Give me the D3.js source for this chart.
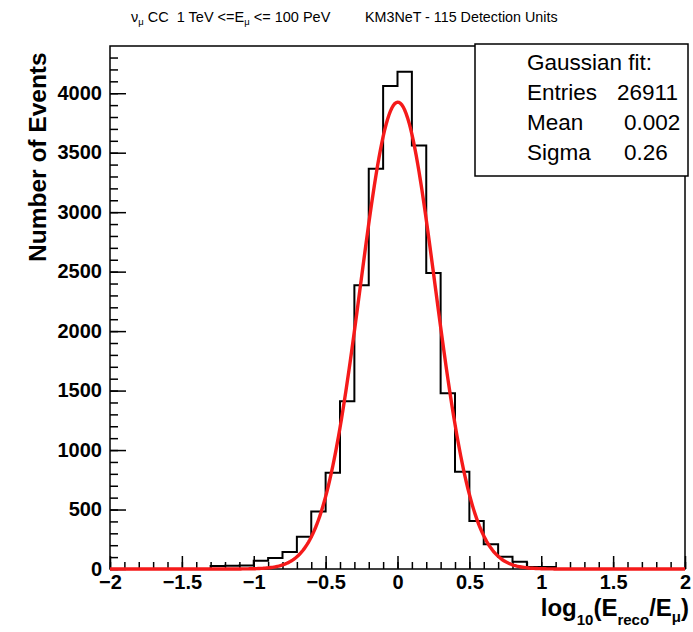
<!DOCTYPE html>
<html>
<head>
<meta charset="utf-8">
<script src="https://cdn.jsdelivr.net/npm/d3@7"></script>
<style>
  body { margin: 0; background: #fff; }
  svg text { font-family: "Liberation Sans", Arial, Helvetica, sans-serif; white-space: pre; }
</style>
</head>
<body>
<svg id="chart" width="693" height="632"></svg>
<script>
// histogram: 40 bins of width 0.1 from -2 to 2
var binStart = -2, binWidth = 0.1;
var counts = [
  0, 0, 0, 0, 0, 0, 0, 25, 28, 30,
  70, 92, 142, 271, 483, 810, 1410, 2385, 3365, 4060,
  4180, 3560, 2488, 1478, 818, 404, 208, 104, 60, 17,
  17, 0, 0, 0, 0, 0, 0, 0, 0, 0
];

// gaussian fit (stats box)
var fitConst = 3925, fitMean = 0.002, fitSigma = 0.26;
var statLabels = ["Entries", "Mean", "Sigma"];
var statValues = ["26911", "0.002", "0.26"];

var xMajor = [-2, -1.5, -1, -0.5, 0, 0.5, 1, 1.5, 2];
var yMajor = [0, 500, 1000, 1500, 2000, 2500, 3000, 3500, 4000];

var margin = {top: 46, left: 110, right: 8, bottom: 63},
    width = 693 - margin.left - margin.right,
    height = 632 - margin.top - margin.bottom;

var svg = d3.select("#chart");
var g = svg.append("g")
    .attr("transform", "translate(" + margin.left + "," + margin.top + ")");

var x = d3.scaleLinear().domain([-2, 2]).range([0, width]);
var y = d3.scaleLinear().domain([0, 4397]).range([height, 0]);

var fmt = function(d) { return d < 0 ? "\u2212" + Math.abs(d) : String(d); };

// minor ticks
var xMinor = d3.range(-20, 21).map(function(i) { return i / 10; });
var yMinor = d3.range(0, 44).map(function(i) { return i * 100; });

g.append("g")
    .attr("transform", "translate(0," + height + ")")
    .call(d3.axisBottom(x).tickValues(xMinor).tickSize(-7).tickFormat(""));
g.append("g")
    .call(d3.axisLeft(y).tickValues(yMinor).tickSize(-8).tickFormat(""));

// major ticks + labels
var xAxis = g.append("g")
    .attr("transform", "translate(0," + height + ")")
    .call(d3.axisBottom(x).tickValues(xMajor).tickSize(-13).tickPadding(6).tickFormat(fmt));
var yAxis = g.append("g")
    .call(d3.axisLeft(y).tickValues(yMajor).tickSize(-16).tickPadding(8).tickFormat(fmt));

g.selectAll(".domain").remove();
g.selectAll(".tick line").attr("stroke", "#000").attr("stroke-width", 1.5);
xAxis.selectAll("text").attr("font-size", 20).attr("font-weight", "bold")
    .attr("font-family", "Liberation Sans, Arial, sans-serif").attr("fill", "#000");
yAxis.selectAll("text").attr("font-size", 20).attr("font-weight", "bold")
    .attr("font-family", "Liberation Sans, Arial, sans-serif").attr("fill", "#000")
    .attr("dy", "0.3em");

// frame
g.append("rect")
    .attr("x", 0).attr("y", 0)
    .attr("width", width).attr("height", height)
    .attr("fill", "none").attr("stroke", "#000").attr("stroke-width", 1.5);

// histogram outline
var pts = counts.map(function(c, i) { return [binStart + i * binWidth, c]; });
pts.push([binStart + counts.length * binWidth, counts[counts.length - 1]]);
var histLine = d3.line()
    .x(function(d) { return x(d[0]); })
    .y(function(d) { return y(d[1]); })
    .curve(d3.curveStepAfter);
g.append("path")
    .datum(pts)
    .attr("d", histLine)
    .attr("fill", "none")
    .attr("stroke", "#000")
    .attr("stroke-width", 2);

// fit curve
var fitX = d3.range(0, 401).map(function(i) { return -2 + i * 0.01; });
var fitLine = d3.line()
    .x(function(d) { return x(d); })
    .y(function(d) { return y(fitConst * Math.exp(-0.5 * Math.pow((d - fitMean) / fitSigma, 2))); });
g.append("path")
    .datum(fitX)
    .attr("d", fitLine)
    .attr("fill", "none")
    .attr("stroke", "#f51a1a")
    .attr("stroke-width", 3.4);

// stats box
var box = svg.append("g").attr("transform", "translate(475,44)");
box.append("rect")
    .attr("width", 213).attr("height", 132)
    .attr("fill", "#fff").attr("stroke", "#000").attr("stroke-width", 1.5);
box.append("text").attr("x", 52).attr("y", 26).attr("font-size", 22.5).text("Gaussian fit:");
var valueX = [142, 149, 149];
statLabels.forEach(function(s, i) {
  box.append("text").attr("x", 52).attr("y", 56 + i * 30).attr("font-size", 22.5).text(s);
  box.append("text").attr("x", valueX[i]).attr("y", 56 + i * 30).attr("font-size", 22.5)
      .text(statValues[i]);
});

// title
var t = svg.append("text").attr("x", 131).attr("y", 22).attr("font-size", 14.5);
t.append("tspan").text("\u03bd");
t.append("tspan").attr("font-size", 9.5).attr("dy", 3).text("\u03bc");
t.append("tspan").attr("dy", -3).text(" CC  1 TeV <=E");
t.append("tspan").attr("font-size", 9.5).attr("dy", 3).text("\u03bc");
t.append("tspan").attr("dy", -3).text(" <= 100 PeV");
svg.append("text").attr("x", 365).attr("y", 22).attr("font-size", 14.3)
    .text("KM3NeT - 115 Detection Units");

// y axis title
svg.append("text")
    .attr("transform", "translate(46,262) rotate(-90)")
    .attr("font-size", 24.5).attr("font-weight", "bold")
    .text("Number of Events");

// x axis title
var xt = svg.append("text").attr("x", 689).attr("y", 616)
    .attr("text-anchor", "end").attr("font-size", 24).attr("font-weight", "bold");
xt.append("tspan").text("log");
xt.append("tspan").attr("font-size", 15).attr("dy", 9).text("10");
xt.append("tspan").attr("dy", -9).text("(E");
xt.append("tspan").attr("font-size", 15).attr("dy", 9).text("reco");
xt.append("tspan").attr("dy", -9).text("/E");
xt.append("tspan").attr("font-size", 15).attr("dy", 6).text("\u03bc");
xt.append("tspan").attr("dy", -6).text(")");
</script>
</body>
</html>
